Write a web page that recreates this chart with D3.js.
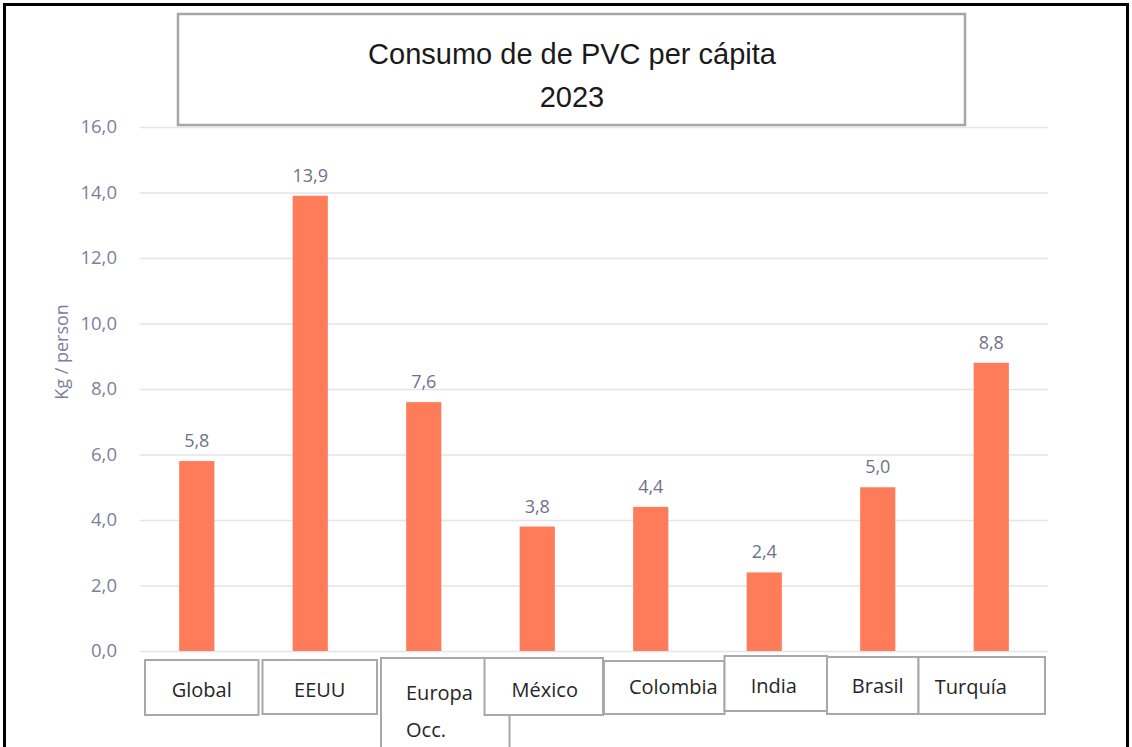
<!DOCTYPE html>
<html>
<head>
<meta charset="utf-8">
<script src="https://cdn.jsdelivr.net/npm/d3@7"></script>
<style>
  body { margin: 0; background: #fff; }
  svg { display: block; }
</style>
</head>
<body>
<svg></svg>
<script>
// data
var categories = ["Global", "EEUU", "Europa Occ.", "México", "Colombia", "India", "Brasil", "Turquía"];
var values = [5.8, 13.9, 7.6, 3.8, 4.4, 2.4, 5.0, 8.8];
var yTicks = [0, 2, 4, 6, 8, 10, 12, 14, 16];
var titleLines = ["Consumo de de PVC per cápita", "2023"];
var yLabel = "Kg / person";

var W = 1132, H = 747;
var margin = {top: 127, right: 84, bottom: 96, left: 140},
    width = W - margin.left - margin.right,
    height = H - margin.top - margin.bottom;

var svg = d3.select("svg")
    .attr("width", W)
    .attr("height", H);

// outer frame
svg.append("rect")
    .attr("x", 4.5).attr("y", 4.5)
    .attr("width", 1123).attr("height", H + 10)
    .style("fill", "none")
    .style("stroke", "#000")
    .style("stroke-width", 3);

var g = svg.append("g")
    .attr("transform", "translate(" + margin.left + "," + margin.top + ")");

var x = d3.scaleBand()
    .domain(categories)
    .range([0, width])
    .paddingInner(0.69)
    .paddingOuter(0.345);

var y = d3.scaleLinear().domain([0, 16]).range([height, 0]);

var comma = function(v) { return d3.format(".1f")(v).replace(".", ","); };

// gridlines + tick labels
var yAxis = d3.axisLeft(y)
    .tickValues(yTicks)
    .tickSize(-width)
    .tickPadding(23)
    .tickFormat(comma);

g.append("g")
    .attr("class", "y axis")
    .call(yAxis)
    .call(function(s) {
      s.select(".domain").remove();
      s.selectAll(".tick line").style("stroke", "#e4e4ea").style("stroke-width", 1.3);
      s.selectAll(".tick text")
        .style("font-family", "'Open Sans', sans-serif")
        .style("font-size", "18.5px")
        .style("fill", "#7c7f9c");
    });

svg.append("text")
    .attr("transform", "translate(68," + 352 + ") rotate(-90)")
    .style("text-anchor", "middle")
    .style("font-family", "'Open Sans', sans-serif")
    .style("font-size", "18px")
    .style("fill", "#7c7f9c")
    .text(yLabel);

// bars
g.selectAll(".bar")
    .data(values)
  .enter().append("rect")
    .attr("class", "bar")
    .style("fill", "#ff7c5a")
    .attr("x", function(d, i) { return x(categories[i]); })
    .attr("width", x.bandwidth())
    .attr("y", function(d) { return y(d); })
    .attr("height", function(d) { return height - y(d); });

g.selectAll(".val")
    .data(values)
  .enter().append("text")
    .attr("class", "val")
    .attr("x", function(d, i) { return x(categories[i]) + x.bandwidth() / 2; })
    .attr("y", function(d) { return y(d) - 14; })
    .style("text-anchor", "middle")
    .style("font-family", "'Open Sans', sans-serif")
    .style("font-size", "18px")
    .style("fill", "#6f7288")
    .text(comma);

// category label boxes (pasted text boxes, slightly uneven)
// each: left, right, top, bottom offsets against the band step, text nudge, baseline
var boxes = [
  [5, 5, 9, 64, 0, 46], [9, 10, 9, 63, 0, 46], [14, 29, 7, 110, 25, 49], [4, 9, 7, 64, 1, 46],
  [10, 17, 10, 63, 9, 43], [17, 6, 5, 60, -2, 42], [6, -16, 6, 63, 5, 42], [-16, -3, 6, 63, -11, 43]
];
var step = x.step();

var lab = svg.append("g").attr("transform", "translate(" + margin.left + "," + (margin.top + height) + ")");
// draw Europa first so México overlaps it
var order = [0, 1, 2, 4, 5, 6, 7, 3];
order.forEach(function(i) {
  var b = boxes[i];
  var left = i * step + b[0];
  var right = (i + 1) * step + b[1];
  var cell = lab.append("g");
  cell.append("rect")
      .attr("x", left).attr("y", b[2])
      .attr("width", right - left).attr("height", b[3] - b[2])
      .style("fill", "#fff")
      .style("stroke", "#a8a8a8")
      .style("stroke-width", 2);
  var words = categories[i] === "Europa Occ." ? ["Europa", "Occ."] : [categories[i]];
  var t = cell.append("text")
      .style("font-family", "'Open Sans', sans-serif")
      .style("font-size", "20px")
      .style("fill", "#262626");
  if (words.length > 1) {
    words.forEach(function(w, k) {
      t.append("tspan").attr("x", left + b[4]).attr("y", b[5] + k * 37).text(w);
    });
  } else {
    t.attr("x", (left + right) / 2 + b[4])
     .attr("y", b[5])
     .style("text-anchor", "middle")
     .text(words[0]);
  }
});

// title box
svg.append("rect")
    .attr("x", 178).attr("y", 14)
    .attr("width", 787).attr("height", 111)
    .style("fill", "#fff")
    .style("stroke", "#a6a6a6")
    .style("stroke-width", 2.5);

svg.append("text")
    .style("text-anchor", "middle")
    .style("font-family", "'Liberation Sans', sans-serif")
    .style("font-size", "29px")
    .style("fill", "#1a1a1a")
    .selectAll("tspan")
    .data(titleLines)
  .enter().append("tspan")
    .attr("x", 572)
    .attr("y", function(d, i) { return 64 + i * 43; })
    .text(function(d) { return d; });
</script>
</body>
</html>
